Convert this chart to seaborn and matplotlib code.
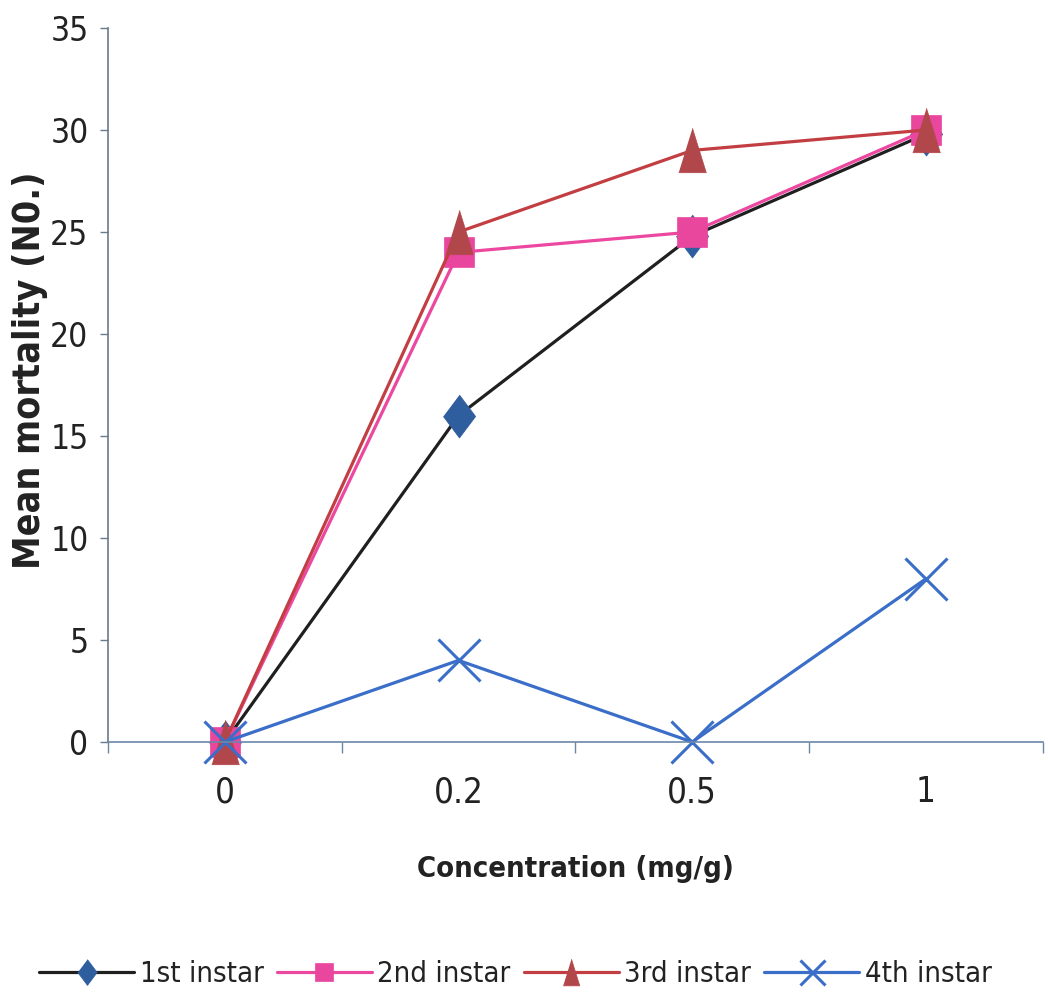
import matplotlib
matplotlib.use("Agg")
import matplotlib.pyplot as plt
import pandas as pd
import seaborn as sns

# Data
concentrations = ["0", "0.2", "0.5", "1"]
first_instar = [0, 16, 24.8, 29.8]
second_instar = [0, 24, 25, 30]
third_instar = [0, 25, 29, 30]
fourth_instar = [0, 4, 0, 8]
series_names = ["1st instar", "2nd instar", "3rd instar", "4th instar"]

sns.set_theme(style="white")
plt.rcParams["font.family"] = ["DejaVu Sans"]
plt.rcParams["font.stretch"] = "condensed"  # closest thing to Arial Narrow

df = pd.DataFrame({
    "conc": concentrations * 4,
    "mortality": first_instar + second_instar + third_instar + fourth_instar,
    "instar": [n for n in series_names for _ in concentrations],
})

diamond = [(0, 1), (0.75, 0), (0, -1), (-0.75, 0)]
tall_tri = [(0, 1), (0.62, -1), (-0.62, -1)]
# line colour, marker, marker colour, marker size, marker edge width
styles = {
    "1st instar": ("#1f1f1f", diamond, "#2E5E9E", 31, 0.5),
    "2nd instar": ("#EC48A0", "s", "#E9479E", 22, 0.5),
    "3rd instar": ("#C23E42", tall_tri, "#B2474B", 32, 0.5),
    "4th instar": ("#3A6EC8", "x", "#3A6EC8", 30, 2.2),
}

fig = plt.figure(figsize=(10.48, 10.0), dpi=100)
ax = fig.add_axes([0.103, 0.258, 0.892, 0.714])

for name in series_names:
    color, marker, mcolor, msize, mew = styles[name]
    sub = df[df["instar"] == name]
    sns.lineplot(data=sub, x="conc", y="mortality", ax=ax, color=color, linewidth=2.3,
                 marker=marker, markersize=msize, markerfacecolor=mcolor,
                 markeredgecolor=mcolor, markeredgewidth=mew, label=name, sort=False,
                 clip_on=False)

ax.set_xlim(-0.5, 3.5)
ax.set_ylim(0, 35)
ax.set_yticks(range(0, 36, 5))
ax.set_xticks(range(len(concentrations)))
ax.set_xticklabels(concentrations)
ax.set_xticks([i - 0.5 for i in range(len(concentrations) + 1)], minor=True)

for side in ["top", "right"]:
    ax.spines[side].set_visible(False)
ax.spines["left"].set_color("#6a7a8a")
ax.spines["bottom"].set_color("#6a88a8")
ax.spines["left"].set_linewidth(1.2)
ax.spines["bottom"].set_linewidth(1.2)

ax.tick_params(axis="y", which="major", direction="out", length=6, width=1, color="#6a7a8a",
               left=True, labelsize=24, pad=8, labelcolor="#222222")
ax.tick_params(axis="x", which="major", length=0, labelsize=25, pad=24, labelcolor="#222222")
ax.tick_params(axis="x", which="minor", direction="out", length=8, width=1, color="#6a88a8", bottom=True)

ax.set_xlabel("Concentration (mg/g)", fontsize=21, fontweight="bold", color="#222222")
ax.xaxis.set_label_coords(0.5, -0.158)
ax.set_ylabel("Mean mortality (N0.)", fontsize=27, fontweight="bold", color="#222222", va="center")
ax.yaxis.set_label_coords(-0.083, 0.521)

handles, labels = ax.get_legend_handles_labels()
ax.get_legend().remove()
fig.legend(handles, labels, loc="center", bbox_to_anchor=(0.492, 0.026), ncol=4,
           frameon=False, fontsize=21, handlelength=3.25, handletextpad=0.2,
           columnspacing=0.45, markerscale=0.6, labelcolor="#222222")

fig.savefig("out.png", dpi=100, facecolor="white")
